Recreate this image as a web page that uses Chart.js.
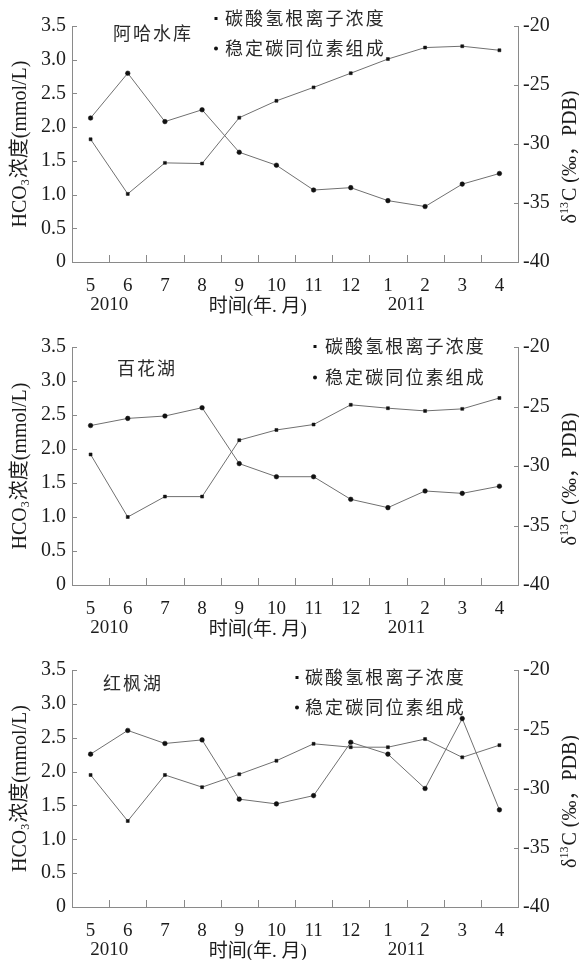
<!DOCTYPE html>
<html>
<head>
<meta charset="utf-8">
<script src="https://cdn.jsdelivr.net/npm/chart.js@4.4.1/dist/chart.umd.min.js"></script>
<style>
  html, body { margin: 0; padding: 0; background: #fff; }
  .panel { position: relative; width: 579px; height: 320px; }
  canvas { display: block; }
</style>
</head>
<body>
<div class="panel"><canvas id="c1" width="579" height="320"></canvas></div>
<div class="panel"><canvas id="c2" width="579" height="320"></canvas></div>
<div class="panel"><canvas id="c3" width="579" height="320"></canvas></div>
<script>
// Sampling months (May 2010 – April 2011)
const months = ['5', '6', '7', '8', '9', '10', '11', '12', '1', '2', '3', '4'];
const yearLabels = ['2010', '2011'];
const yearStartIdx = [0, 8];           // each year sits between this month and the next
const xTitle = '时间(年. 月)';
const seriesNames = ['碳酸氢根离子浓度', '稳定碳同位素组成'];
const lakeNames = ['阿哈水库', '百花湖', '红枫湖'];

// HCO3- concentration, mmol/L
const hco3Aha      = [1.82, 1.01, 1.47, 1.46, 2.14, 2.39, 2.59, 2.80, 3.01, 3.18, 3.20, 3.14];
const hco3Baihua   = [1.92, 1.00, 1.30, 1.30, 2.13, 2.28, 2.36, 2.65, 2.60, 2.56, 2.59, 2.75];
const hco3Hongfeng = [1.95, 1.27, 1.95, 1.77, 1.96, 2.16, 2.41, 2.36, 2.36, 2.48, 2.21, 2.39];

// δ13C of DIC, ‰ (PDB)
const d13cAha      = [-27.8, -24.0, -28.1, -27.1, -30.7, -31.8, -33.9, -33.7, -34.8, -35.3, -33.4, -32.5];
const d13cBaihua   = [-26.6, -26.0, -25.8, -25.1, -29.8, -30.9, -30.9, -32.8, -33.5, -32.1, -32.3, -31.7];
const d13cHongfeng = [-27.1, -25.1, -26.2, -25.9, -30.9, -31.3, -30.6, -26.1, -27.1, -30.0, -24.1, -31.8];

const SERIF = '"Liberation Serif", "Noto Sans CJK SC", serif';
const CJK = '"Noto Sans CJK SC", sans-serif';
const AXIS = '#8a8a8a';
const LINE = '#707070';
const INK = '#1c1c1c';

// per-panel layout
const panels = [
  { id: 'c1', name: lakeNames[0], hco3: hco3Aha, d13c: d13cAha,
    top: 26, bottom: 262, lakeX: 113, lakeY: 33, legMarkX: 216, legTextX: 225, legY: [18, 48] },
  { id: 'c2', name: lakeNames[1], hco3: hco3Baihua, d13c: d13cBaihua,
    top: 27, bottom: 265, lakeX: 117, lakeY: 48, legMarkX: 315, legTextX: 325, legY: [26, 57] },
  { id: 'c3', name: lakeNames[2], hco3: hco3Hongfeng, d13c: d13cHongfeng,
    top: 30, bottom: 267, lakeX: 103, lakeY: 43, legMarkX: 297, legTextX: 305, legY: [37, 67] }
];

function spacedText(ctx, text, x, y, step) {
  for (let i = 0; i < text.length; i++) ctx.fillText(text[i], x + i * step, y);
}

const decor = {
  id: 'decor',
  afterDraw(chart, args, opts) {
    const { ctx, chartArea: a, scales } = chart;
    const sx = scales.x, sy = scales.y, sy2 = scales.y2;
    const mid = i => (sx.getPixelForValue(i) + sx.getPixelForValue(i + 1)) / 2;
    ctx.save();

    // inward tick marks
    ctx.strokeStyle = AXIS;
    ctx.lineWidth = 1;
    ctx.beginPath();
    for (let i = 0; i < months.length - 1; i++) {
      const px = Math.round(mid(i)) + 0.5;
      ctx.moveTo(px, a.bottom); ctx.lineTo(px, a.bottom - 7);
    }
    sy.ticks.forEach(t => {
      const py = Math.round(sy.getPixelForValue(t.value)) + 0.5;
      ctx.moveTo(a.left, py); ctx.lineTo(a.left + 5, py);
    });
    sy2.ticks.forEach(t => {
      const py = Math.round(sy2.getPixelForValue(t.value)) + 0.5;
      ctx.moveTo(a.right, py); ctx.lineTo(a.right - 4, py);
    });
    ctx.stroke();

    ctx.fillStyle = INK;
    ctx.textBaseline = 'middle';

    // second row under the month labels
    ctx.textAlign = 'center';
    ctx.font = '19px ' + SERIF;
    yearLabels.forEach((yl, k) => ctx.fillText(yl, mid(yearStartIdx[k]), a.bottom + 43));
    ctx.font = '19px ' + SERIF;
    ctx.fillText(xTitle, mid(4), a.bottom + 45);

    // left axis title: HCO3 浓度(mmol/L)
    const cy = (a.top + a.bottom) / 2;
    ctx.save();
    ctx.translate(21, cy);
    ctx.rotate(-Math.PI / 2);
    const big = '20px ' + SERIF, small = '12px ' + SERIF;
    ctx.font = big;
    const p1 = 'HCO', p3 = '浓度(mmol/L)';
    const w1 = ctx.measureText(p1).width, w3 = ctx.measureText(p3).width;
    ctx.font = small;
    const w2 = ctx.measureText('3').width + 1;
    let sxp = -(w1 + w2 + w3) / 2;
    ctx.textAlign = 'left';
    ctx.font = big; ctx.fillText(p1, sxp, 0);
    ctx.font = small; ctx.fillText('3', sxp + w1, 5);
    ctx.font = big; ctx.fillText(p3, sxp + w1 + w2, 0);
    ctx.restore();

    // right axis title: δ13C (‰，PDB)
    ctx.save();
    ctx.translate(571, cy + 13);
    ctx.rotate(-Math.PI / 2);
    const q1 = 'δ', q2 = '13', q3 = 'C (‰，PDB)';
    ctx.font = big;
    const v1 = ctx.measureText(q1).width, v3 = ctx.measureText(q3).width;
    ctx.font = small;
    const v2 = ctx.measureText(q2).width + 1;
    let rx = -(v1 + v2 + v3) / 2;
    ctx.textAlign = 'left';
    ctx.font = big; ctx.fillText(q1, rx, 0);
    ctx.font = small; ctx.fillText(q2, rx + v1, -6);
    ctx.font = big; ctx.fillText(q3, rx + v1 + v2, 0);
    ctx.restore();

    // lake name
    ctx.textAlign = 'left';
    ctx.fillStyle = '#2a2a2a';
    ctx.font = '18px ' + CJK;
    spacedText(ctx, opts.name, opts.lakeX, opts.lakeY, 20);

    // legend
    chart.data.datasets.forEach((ds, k) => {
      const ly = opts.legY[k];
      ctx.fillStyle = '#111';
      if (k === 0) ctx.fillRect(opts.legMarkX - 1.5, ly - 1, 3, 3);
      else { ctx.beginPath(); ctx.arc(opts.legMarkX, ly + 0.5, 2, 0, Math.PI * 2); ctx.fill(); }
      ctx.fillStyle = '#2a2a2a';
      spacedText(ctx, ds.label, opts.legTextX, ly, 20.1);
    });

    ctx.restore();
  }
};

panels.forEach(p => {
  const axisFont = { family: SERIF, size: 20 };
  new Chart(document.getElementById(p.id), {
    type: 'line',
    data: {
      labels: months,
      datasets: [
        { label: seriesNames[0], data: p.hco3, yAxisID: 'y',
          borderColor: LINE, borderWidth: 1, tension: 0,
          pointStyle: 'rect', pointRadius: 2.1,
          pointBackgroundColor: '#111', pointBorderColor: '#111', pointBorderWidth: 0.5 },
        { label: seriesNames[1], data: p.d13c, yAxisID: 'y2',
          borderColor: LINE, borderWidth: 1, tension: 0,
          pointStyle: 'circle', pointRadius: 2.3,
          pointBackgroundColor: '#111', pointBorderColor: '#111', pointBorderWidth: 0.5 }
      ]
    },
    options: {
      responsive: false,
      animation: false,
      devicePixelRatio: 1,
      layout: { padding: { top: p.top, left: 0, right: 0, bottom: 0 } },
      plugins: {
        legend: { display: false },
        tooltip: { enabled: false },
        decor: { name: p.name, lakeX: p.lakeX, lakeY: p.lakeY,
                 legMarkX: p.legMarkX, legTextX: p.legTextX, legY: p.legY }
      },
      scales: {
        x: {
          type: 'category', offset: true,
          grid: { display: false, drawTicks: false },
          border: { display: true, color: AXIS, width: 1 },
          ticks: { font: { family: SERIF, size: 19 }, color: INK, padding: 13,
                   maxRotation: 0, autoSkip: false },
          afterFit: s => { s.height = 320 - p.bottom; }
        },
        y: {
          position: 'left', min: 0, max: 3.5,
          grid: { display: false, drawTicks: false },
          border: { display: true, color: AXIS, width: 1 },
          ticks: { stepSize: 0.5, font: axisFont, color: INK, padding: 6,
                   callback: v => (v === 0 ? '0' : v.toFixed(1)) },
          afterFit: s => { s.width = 72; }
        },
        y2: {
          position: 'right', min: -40, max: -20,
          grid: { display: false, drawTicks: false },
          border: { display: true, color: AXIS, width: 1 },
          ticks: { stepSize: 5, font: axisFont, color: INK, padding: 5,
                   callback: v => String(v) },
          afterFit: s => { s.width = 61; }
        }
      }
    },
    plugins: [decor]
  });
});
</script>
</body>
</html>
